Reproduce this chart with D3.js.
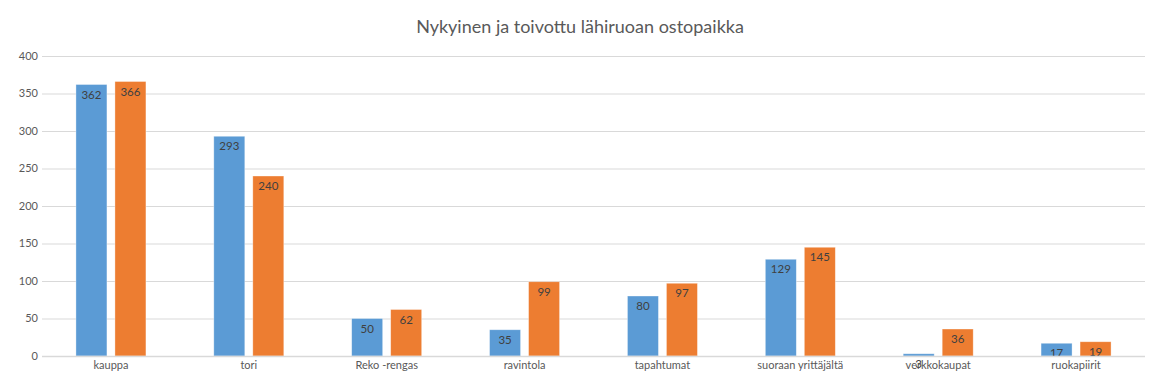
<!DOCTYPE html>
<html>
<head>
<meta charset="utf-8">
<script src="https://cdn.jsdelivr.net/npm/d3@7"></script>
<style>
  body { margin: 0; background: #fff; }
  svg { font-family: Lato, "Open Sans", sans-serif; }
</style>
</head>
<body>
<svg id="chart"></svg>
<script>
// chart data
const categories = ['kauppa', 'tori', 'Reko -rengas', 'ravintola', 'tapahtumat', 'suoraan yrittäjältä', 'verkkokaupat', 'ruokapiirit'];
const current = [362, 293, 50, 35, 80, 129, 3, 17];
const wished = [366, 240, 62, 99, 97, 145, 36, 19];
const yTicks = [0, 50, 100, 150, 200, 250, 300, 350, 400];

const width = 1158, height = 385;
const margin = { top: 56, right: 13, bottom: 29, left: 42 };

const svg = d3.select('#chart').attr('width', width).attr('height', height);

const x = d3.scaleBand()
  .domain(categories)
  .range([margin.left, width - margin.right]);

const y = d3.scaleLinear()
  .domain([0, 400])
  .range([height - margin.bottom, margin.top]);

const barW = 31, gap = 8;

// gridlines
svg.append('g')
  .selectAll('line')
  .data(yTicks.slice(1))
  .join('line')
  .attr('x1', margin.left)
  .attr('x2', width - margin.right)
  .attr('y1', d => y(d) + 0.5)
  .attr('y2', d => y(d) + 0.5)
  .attr('stroke', '#d9d9d9')
  .attr('stroke-width', 1);

// y axis labels
svg.append('g')
  .selectAll('text')
  .data(yTicks)
  .join('text')
  .attr('x', 38)
  .attr('y', d => y(d))
  .attr('dy', '0.35em')
  .attr('text-anchor', 'end')
  .attr('fill', '#595959')
  .style('font-size', '11px')
  .text(d => d);

const series = [
  { values: current, color: '#5b9bd5', offset: -(gap / 2 + barW) },
  { values: wished, color: '#ed7d31', offset: gap / 2 }
];

series.forEach(s => {
  const g = svg.append('g');
  g.selectAll('rect')
    .data(categories)
    .join('rect')
    .attr('x', d => x(d) + x.bandwidth() / 2 + s.offset)
    .attr('y', (d, i) => y(s.values[i]))
    .attr('width', barW)
    .attr('height', (d, i) => y(0) - y(s.values[i]))
    .attr('fill', s.color)
    .attr('stroke', '#fff')
    .attr('stroke-opacity', 0.5)
    .attr('stroke-width', 0.7);

  g.selectAll('text')
    .data(categories)
    .join('text')
    .attr('x', d => x(d) + x.bandwidth() / 2 + s.offset + barW / 2)
    .attr('y', (d, i) => y(s.values[i]) + 10)
    .attr('dy', '0.35em')
    .attr('text-anchor', 'middle')
    .attr('fill', '#404040')
    .style('font-size', '11.5px')
    .text((d, i) => s.values[i]);
});

// baseline
svg.append('line')
  .attr('x1', margin.left)
  .attr('x2', width - margin.right)
  .attr('y1', y(0) + 0.5)
  .attr('y2', y(0) + 0.5)
  .attr('stroke', '#d9d9d9')
  .attr('stroke-width', 1.5);

// category labels
svg.append('g')
  .selectAll('text')
  .data(categories)
  .join('text')
  .attr('x', d => x(d) + x.bandwidth() / 2)
  .attr('y', y(0) + 9)
  .attr('dy', '0.35em')
  .attr('text-anchor', 'middle')
  .attr('fill', '#595959')
  .style('font-size', '11px')
  .text(d => d);

// title
svg.append('text')
  .attr('x', 580)
  .attr('y', 27)
  .attr('dy', '0.35em')
  .attr('text-anchor', 'middle')
  .attr('fill', '#595959')
  .style('font-size', '18px')
  .text('Nykyinen ja toivottu lähiruoan ostopaikka');
</script>
</body>
</html>
